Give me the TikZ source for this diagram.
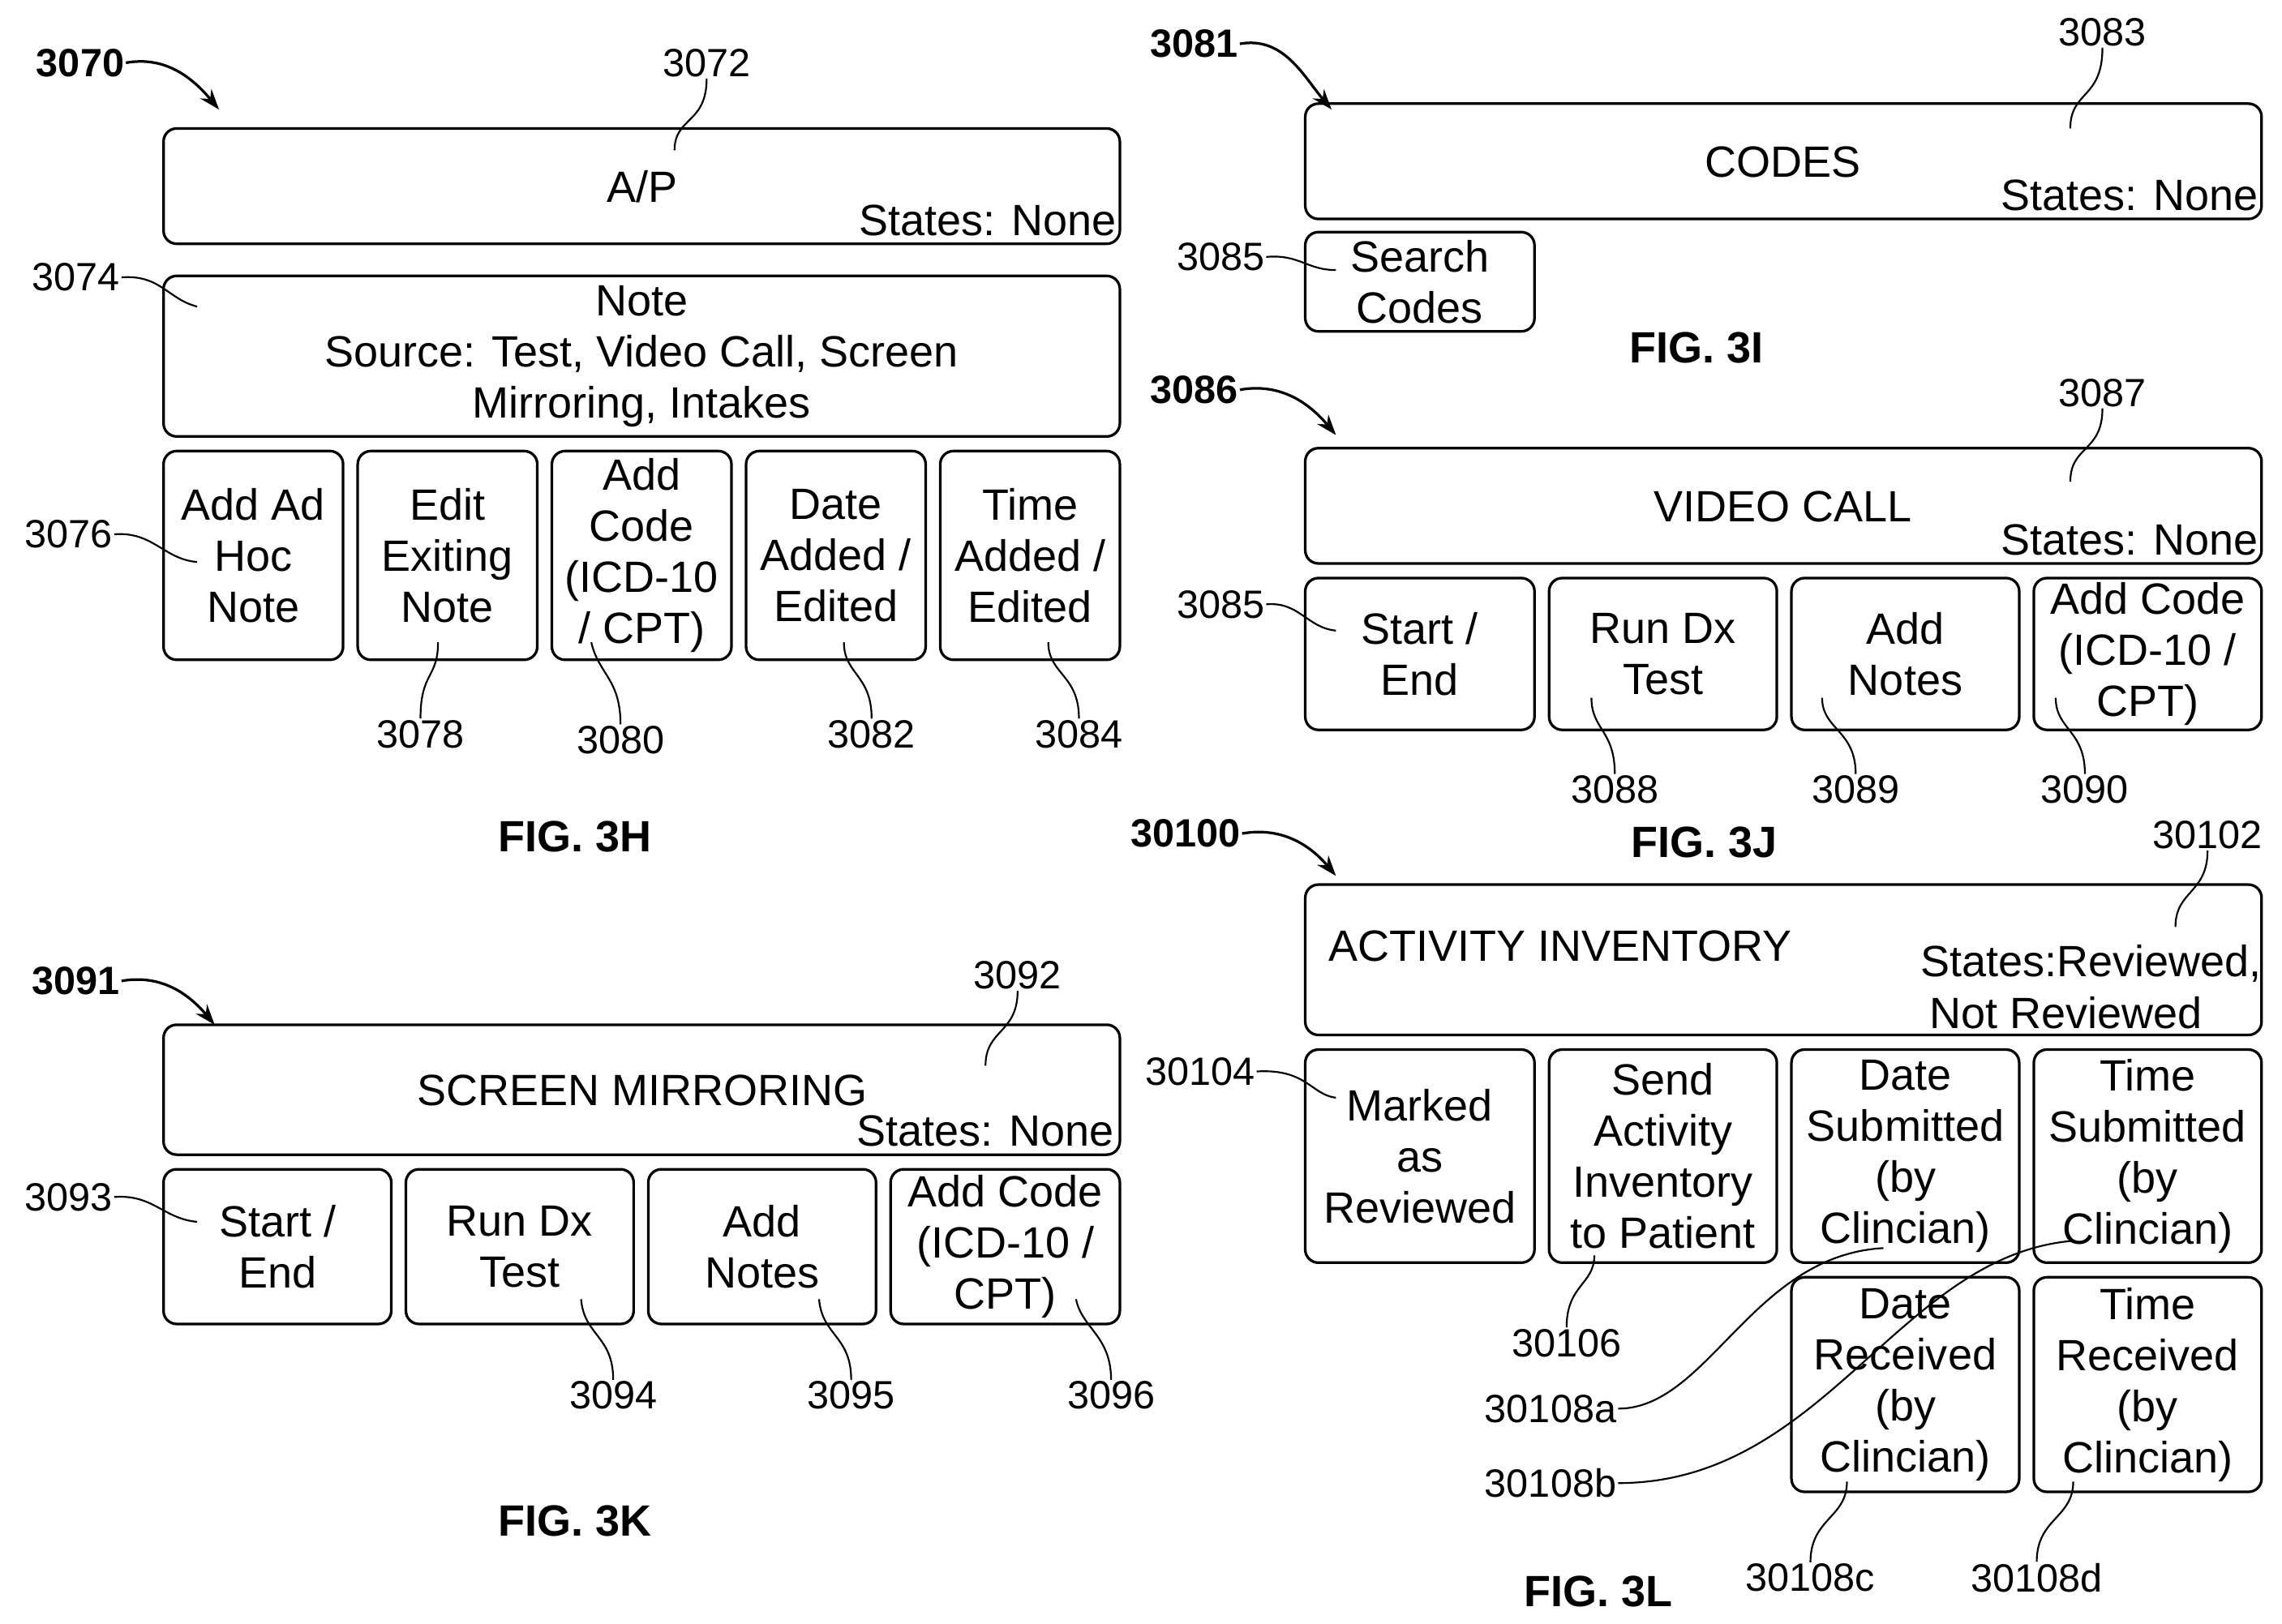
\documentclass[tikz,border=0pt]{standalone}
\usepackage{fontspec}
\usetikzlibrary{arrows.meta}
\setmainfont{Liberation Sans}
\begin{document}
\begin{tikzpicture}[x=1pt,y=-1pt,
 box/.style={draw,line width=1.8pt,rounded corners=9pt},
 tx/.style={font=\fontsize{30}{35}\selectfont,align=center,inner sep=0pt},
 num/.style={font=\fontsize{27}{30}\selectfont,inner sep=1pt},
 bnum/.style={font=\fontsize{27}{30}\selectfont\bfseries,inner sep=1pt},
 fig/.style={font=\fontsize{30}{34}\selectfont\bfseries,inner sep=0pt},
 ld/.style={line width=1.2pt},
 ar/.style={line width=1.8pt,-{Stealth[length=14pt,width=10pt]}}]
\useasboundingbox (0,0) rectangle (1563,1112);
\newcommand{\bx}[6]{\draw[box] (#2,#3) rectangle (#4,#5); \node[tx] (#1) at ({(#2+#4)/2},{(#3+#5)/2}) {#6};}
% ---------- 3H
\node[bnum] (n3070) at (55,43) {3070};
\draw[ar] (n3070.east) to[out=10,in=130] (150,75);
\bx{ap}{112}{88}{767}{167}{}
\node[tx] (apt) at (440,128) {A/P};
\node[tx,anchor=east] (aps) at (765,151) {States: None};
\node[num] (n3072) at (484,43) {3072};
\draw[ld] (n3072.south) .. controls (484,85) and (462,80) .. (462,103);
\bx{note}{112}{189}{767}{299}{Note\\Source: Test, Video Call, Screen\\Mirroring, Intakes}
\node[num] (n3074) at (52,190) {3074};
\draw[ld] (n3074.east) .. controls (110,188) and (115,205) .. (135,210);
\bx{h1}{112}{309}{235}{452}{Add Ad\\Hoc\\Note}
\bx{h2}{245}{309}{368}{452}{Edit\\Exiting\\Note}
\bx{h3}{378}{309}{501}{452}{Add\\Code\\(ICD-10\\/ CPT)}
\bx{h4}{511}{309}{634}{452}{Date\\Added /\\Edited}
\bx{h5}{644}{309}{767}{452}{Time\\Added /\\Edited}
\node[num] (n3076) at (47,366) {3076};
\draw[ld] (n3076.east) .. controls (105,364) and (112,383) .. (135,385);
\node[num] (n3078) at (288,503) {3078};
\draw[ld] (n3078.north) .. controls (288,460) and (300,465) .. (300,440);
\node[num] (n3080) at (425,507) {3080};
\draw[ld] (n3080.north) .. controls (425,465) and (410,462) .. (405,440);
\node[num] (n3082) at (597,503) {3082};
\draw[ld] (n3082.north) .. controls (597,462) and (578,462) .. (578,440);
\node[num] (n3084) at (739,503) {3084};
\draw[ld] (n3084.north) .. controls (739,462) and (718,462) .. (718,440);
\node[fig] (f3h) at (394,573) {FIG. 3H};
% ---------- 3I
\node[bnum] (n3081) at (818,30) {3081};
\draw[ar] (n3081.east) to[out=10,in=130] (912,75);
\bx{codes}{894}{71}{1549}{150}{}
\node[tx] (ct) at (1221,111) {CODES};
\node[tx,anchor=east] (cs) at (1547,134) {States: None};
\node[num] (n3083) at (1440,22) {3083};
\draw[ld] (n3083.south) .. controls (1440,68) and (1418,62) .. (1418,88);
\bx{search}{894}{159}{1051}{227}{Search\\Codes}
\node[num] (n3085a) at (836,176) {3085};
\draw[ld] (n3085a.east) .. controls (890,174) and (895,185) .. (915,185);
\node[fig] (f3i) at (1162,238) {FIG. 3I};
% ---------- 3J
\node[bnum] (n3086) at (818,267) {3086};
\draw[ar] (n3086.east) to[out=10,in=130] (915,298);
\bx{vc}{894}{307}{1549}{386}{}
\node[tx] (vct) at (1221,347) {VIDEO CALL};
\node[tx,anchor=east] (vcs) at (1547,370) {States: None};
\node[num] (n3087) at (1440,269) {3087};
\draw[ld] (n3087.south) .. controls (1440,310) and (1418,305) .. (1418,330);
\bx{j1}{894}{396}{1051}{500}{Start /\\End}
\bx{j2}{1061}{396}{1217}{500}{Run Dx\\Test}
\bx{j3}{1227}{396}{1383}{500}{Add\\Notes}
\bx{j4}{1393}{396}{1549}{500}{Add Code\\(ICD-10 /\\CPT)}
\node[num] (n3085b) at (836,414) {3085};
\draw[ld] (n3085b.east) .. controls (890,412) and (895,430) .. (915,432);
\node[num] (n3088) at (1106,541) {3088};
\draw[ld] (n3088.north) .. controls (1106,500) and (1090,500) .. (1090,478);
\node[num] (n3089) at (1271,541) {3089};
\draw[ld] (n3089.north) .. controls (1271,500) and (1248,500) .. (1248,478);
\node[num] (n3090) at (1428,541) {3090};
\draw[ld] (n3090.north) .. controls (1428,500) and (1408,500) .. (1408,478);
\node[fig] (f3j) at (1167,577) {FIG. 3J};
% ---------- 3K
\node[bnum] (n3091) at (52,672) {3091};
\draw[ar] (n3091.east) to[out=10,in=130] (147,702);
\bx{sm}{112}{702}{767}{791}{}
\node[tx] (smt) at (440,747) {SCREEN MIRRORING};
\node[tx,anchor=east] (sms) at (763,775) {States: None};
\node[num] (n3092) at (697,668) {3092};
\draw[ld] (n3092.south) .. controls (697,708) and (675,705) .. (675,730);
\bx{k1}{112}{801}{268}{907}{Start /\\End}
\bx{k2}{278}{801}{434}{907}{Run Dx\\Test}
\bx{k3}{444}{801}{600}{907}{Add\\Notes}
\bx{k4}{610}{801}{767}{907}{Add Code\\(ICD-10 /\\CPT)}
\node[num] (n3093) at (47,820) {3093};
\draw[ld] (n3093.east) .. controls (105,818) and (112,835) .. (135,837);
\node[num] (n3094) at (420,956) {3094};
\draw[ld] (n3094.north) .. controls (420,915) and (400,915) .. (398,890);
\node[num] (n3095) at (583,956) {3095};
\draw[ld] (n3095.north) .. controls (583,915) and (563,915) .. (561,890);
\node[num] (n3096) at (761,956) {3096};
\draw[ld] (n3096.north) .. controls (761,915) and (741,910) .. (737,890);
\node[fig] (f3k) at (394,1042) {FIG. 3K};
% ---------- 3L
\node[bnum] (n30100) at (812,571) {30100};
\draw[ar] (n30100.east) to[out=10,in=130] (915,600);
\bx{ai}{894}{606}{1549}{709}{}
\node[tx,anchor=west] (ait) at (910,648) {ACTIVITY INVENTORY};
\node[tx,anchor=east] (ais) at (1549,660) {States:Reviewed,};
\node[tx] (ais2) at (1415,694) {Not Reviewed};
\node[num] (n30102) at (1512,572) {30102};
\draw[ld] (n30102.south) .. controls (1512,612) and (1490,610) .. (1490,635);
\bx{l1}{894}{719}{1051}{865}{Marked\\as\\Reviewed}
\bx{l2}{1061}{719}{1217}{865}{Send\\Activity\\Inventory\\to Patient}
\bx{l3}{1227}{719}{1383}{865}{Date\\Submitted\\(by\\Clincian)}
\bx{l4}{1393}{719}{1549}{865}{Time\\Submitted\\(by\\Clincian)}
\bx{l5}{1227}{875}{1383}{1022}{Date\\Received\\(by\\Clincian)}
\bx{l6}{1393}{875}{1549}{1022}{Time\\Received\\(by\\Clincian)}
\node[num] (n30104) at (822,734) {30104};
\draw[ld] (n30104.east) .. controls (895,732) and (898,750) .. (915,752);
\node[num] (n30106) at (1073,920) {30106};
\draw[ld] (n30106.north) .. controls (1073,880) and (1092,880) .. (1092,860);
\node[num] (n30108a) at (1062,965) {30108a};
\draw[ld] (n30108a.east) .. controls (1170,965) and (1200,860) .. (1290,855);
\node[num] (n30108b) at (1062,1016) {30108b};
\draw[ld] (n30108b.east) .. controls (1250,1016) and (1300,860) .. (1420,850);
\node[num] (n30108c) at (1240,1081) {30108c};
\draw[ld] (n30108c.north) .. controls (1240,1040) and (1265,1040) .. (1265,1015);
\node[num] (n30108d) at (1395,1081) {30108d};
\draw[ld] (n30108d.north) .. controls (1395,1040) and (1420,1040) .. (1420,1015);
\node[fig] (f3l) at (1095,1090) {FIG. 3L};
\end{tikzpicture}
\end{document}
